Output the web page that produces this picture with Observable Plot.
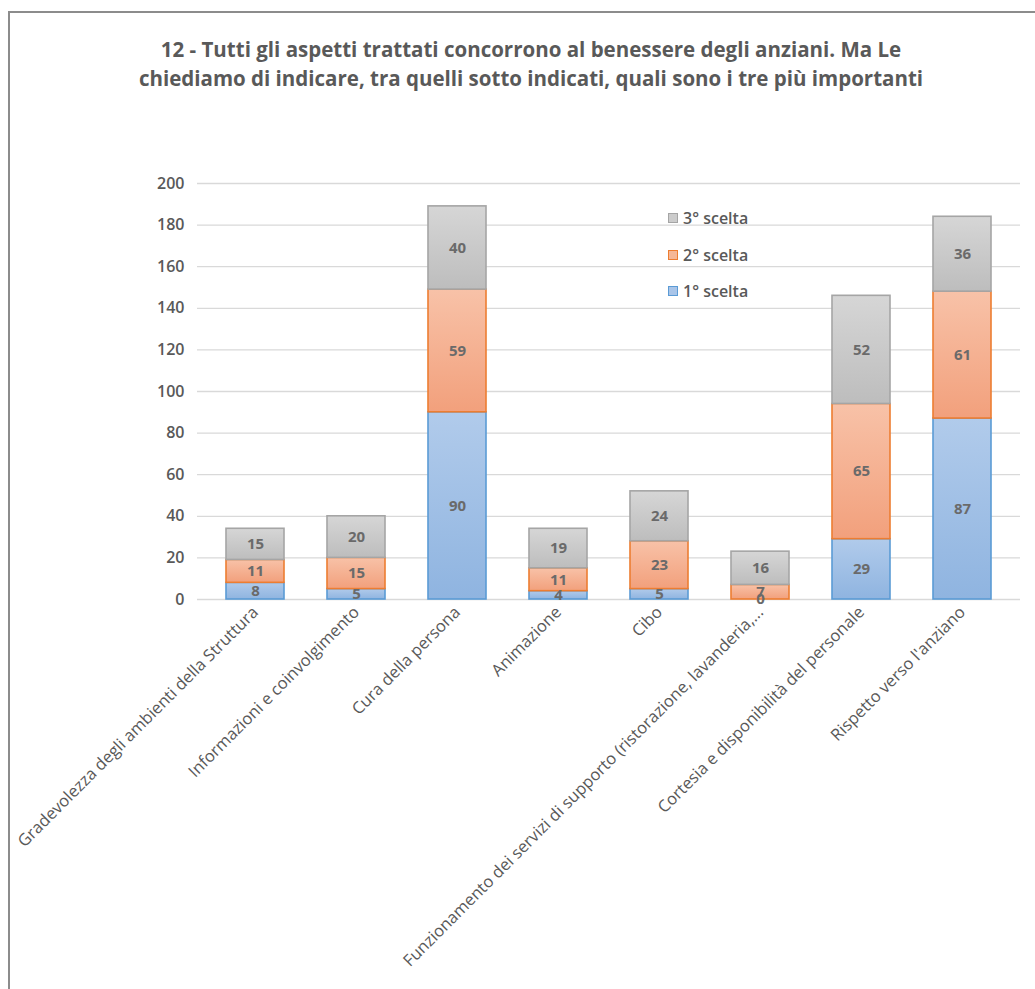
<!DOCTYPE html>
<html><head><meta charset="utf-8">
<script src="https://cdn.jsdelivr.net/npm/d3@7"></script>
<script src="https://cdn.jsdelivr.net/npm/@observablehq/plot@0.6"></script>
<style>
body{margin:0;background:#fff;font-family:"Open Sans",sans-serif;}
#wrap{position:relative;width:1035px;height:989px;overflow:hidden;background:#fff;}
#frame{position:absolute;left:8px;top:11px;width:1200px;height:1200px;border-left:2px solid #8c8c8c;border-top:2px solid #8c8c8c;}
#title{position:absolute;left:0;width:1062px;top:35px;text-align:center;font-weight:700;font-size:20.5px;line-height:29px;color:#595959;}
#chart{position:absolute;left:0;top:0;}
#legend{position:absolute;left:668px;top:208px;font-size:16px;color:#595959;font-weight:600;}
.li{display:flex;align-items:center;height:20px;margin-bottom:16.5px;}
.sw{width:10px;height:10px;margin-right:5px;box-sizing:border-box;}
</style></head>
<body>
<div id="wrap">
  <div id="frame"></div>
  <div id="title">12 - Tutti gli aspetti trattati concorrono al benessere degli anziani. Ma Le<br>chiediamo di indicare, tra quelli sotto indicati, quali sono i tre più importanti</div>
  <div id="chart"></div>
  <div id="legend"></div>
</div>
<script>
const categories = [
  "Gradevolezza degli ambienti della Struttura",
  "Informazioni e coinvolgimento",
  "Cura della persona",
  "Animazione",
  "Cibo",
  "Funzionamento dei servizi di supporto (ristorazione, lavanderia,...",
  "Cortesia e disponibilità del personale",
  "Rispetto verso l'anziano"
];
const series = ["1° scelta", "2° scelta", "3° scelta"];
const primaScelta  = [8, 5, 90, 4, 5, 0, 29, 87];
const secondaScelta = [11, 15, 59, 11, 23, 7, 65, 61];
const terzaScelta  = [15, 20, 40, 19, 24, 16, 52, 36];
const yTicks = [0, 20, 40, 60, 80, 100, 120, 140, 160, 180, 200];

const seriesValues = [primaScelta, secondaScelta, terzaScelta];
const data = [];
categories.forEach((c, i) => series.forEach((s, j) => data.push({cat: c, s, v: seriesValues[j][i]})));

const fills = ["url(#gBlue)", "url(#gOrange)", "url(#gGray)"];
const strokes = {"url(#gBlue)": "#5b9bd5", "url(#gOrange)": "#ed7d31", "url(#gGray)": "#a5a5a5"};
const swatch = [{bg: "#a9c5e9", bd: "#5b9bd5"}, {bg: "#f5b797", bd: "#ed7d31"}, {bg: "#cccccc", bd: "#a5a5a5"}];

const chart = Plot.plot({
  width: 1035, height: 989,
  marginTop: 183, marginBottom: 390, marginLeft: 197, marginRight: 15,
  x: {domain: categories, paddingInner: 0.43, paddingOuter: 0.25, label: null},
  y: {domain: [0, 200], ticks: yTicks, label: null},
  color: {domain: series, range: fills},
  style: {fontFamily: "'Open Sans', sans-serif", color: "#595959", background: "transparent"},
  marks: [
    Plot.gridY(yTicks, {stroke: "#d9d9d9", strokeOpacity: 1, strokeWidth: 1.3}),
    Plot.barY(data, Plot.stackY({x: "cat", y: "v", fill: "s", order: series, strokeWidth: 1.6})),
    Plot.text(data, Plot.stackY({x: "cat", y: "v", z: "s", order: series, text: "v",
      fill: "#6a6a6a", fontSize: 15, fontWeight: 700})),
    Plot.axisY({ticks: yTicks, tickSize: 0, tickPadding: 13, fontSize: 16, fontWeight: 600, fill: "#595959"}),
    Plot.axisX({tickSize: 0, tickRotate: -45, tickPadding: 10, fontSize: 16.5, fill: "#595959", label: null})
  ]
});

const svg = d3.select(chart);
const defs = svg.insert("defs", ":first-child");
function grad(id, top, bottom) {
  const g = defs.append("linearGradient").attr("id", id).attr("x1", 0).attr("y1", 0).attr("x2", 0).attr("y2", 1);
  g.append("stop").attr("offset", "0%").attr("stop-color", top);
  g.append("stop").attr("offset", "100%").attr("stop-color", bottom);
}
grad("gBlue", "#b1cbeb", "#8fb4e0");
grad("gOrange", "#f8c2a8", "#f2a07c");
grad("gGray", "#d6d6d6", "#bdbdbd");
svg.selectAll("rect").each(function() {
  const f = this.getAttribute("fill");
  if (strokes[f]) this.setAttribute("stroke", strokes[f]);
});
document.getElementById("chart").appendChild(chart);

const legend = d3.select("#legend");
[2, 1, 0].forEach(j => {
  const item = legend.append("div").attr("class", "li");
  item.append("div").attr("class", "sw").style("background", swatch[j].bg).style("border", `1px solid ${swatch[j].bd}`);
  item.append("span").text(series[j]);
});
</script>
</body></html>
